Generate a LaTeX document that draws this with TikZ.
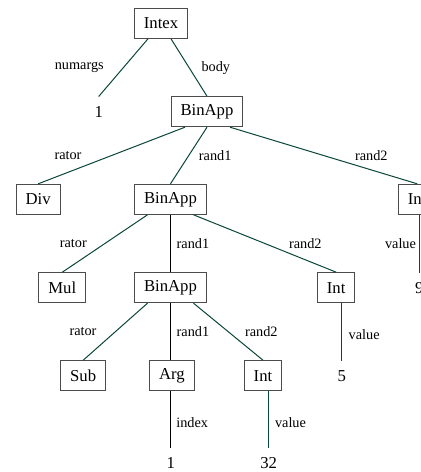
\documentclass[tikz,border=0pt]{standalone}
\usepackage{fontspec}
\setmainfont{Liberation Serif}
\usepackage{xcolor}
\usepackage{tikz}
\usetikzlibrary{calc, positioning}
\definecolor{edgegreen}{RGB}{10,70,58}

\begin{document}
\begin{tikzpicture}[x=1pt, y=-1pt,
    box/.style={draw=black!70, line width=1pt, inner xsep=9.5pt, inner ysep=0pt, minimum height=30pt, font=\fontsize{16.7}{20}\selectfont},
    leaf/.style={inner sep=0pt, minimum height=30pt, font=\fontsize{16.7}{20}\selectfont},
    lbl/.style={inner sep=0pt, font=\fontsize{14.3}{17}\selectfont},
    link/.style={draw=edgegreen, line width=1pt},
    plain/.style={draw=black, line width=1pt}]
    \useasboundingbox (0,0) rectangle (421,472);
    \clip (0,0) rectangle (421,472);
    % Tree nodes
    \node[box]  (intex) at (161,23.3)    {Intex};
    \node[leaf] (one)   at (98.7,111.7)  {1};
    \node[box]  (binA)  at (207,111.7)   {BinApp};
    \node[box]  (div)   at (38.2,199.3)  {Div};
    \node[box]  (binB)  at (170.5,199.3) {BinApp};
    \node[box]  (intR)  at (417.2,199.3) {Int};
    \node[box]  (mul)   at (62.3,287.7)  {Mul};
    \node[box]  (binC)  at (170.5,287.7) {BinApp};
    \node[box]  (intM)  at (336.2,287.7) {Int};
    \node[leaf] (nine)  at (419.3,287.7) {9};
    \node[box]  (sub)   at (83.2,375.7)  {Sub};
    \node[box]  (arg)   at (172,375.7)   {Arg};
    \node[box]  (intS)  at (263,375.7)   {Int};
    \node[leaf] (five)  at (341.7,375.7) {5};
    \node[leaf] (oneB)  at (170.7,463.3) {1};
    \node[leaf] (tt)    at (268.7,463.3) {32};
    % Connectors
    \draw[link] ([xshift=-13pt]intex.south) -- (one.north);
    \draw[link] ([xshift=10pt]intex.south) -- (binA.north);
    \draw[link] ([xshift=-22pt]binA.south) -- (div.north);
    \draw[link] (binA.south) -- (binB.north);
    \draw[link] ([xshift=23pt]binA.south) -- (intR.north);
    \draw[link] ([xshift=-23pt]binB.south) -- (mul.north);
    \draw[plain] (binB.south) -- (binC.north);
    \draw[link] ([xshift=23pt]binB.south) -- (intM.north);
    \draw[link] (intR.south -| nine.north) -- (nine.north);
    \draw[link] ([xshift=-23pt]binC.south) -- (sub.north);
    \draw[plain] (binC.south) -- (binC.south |- arg.north);
    \draw[link] ([xshift=23pt]binC.south) -- (intS.north);
    \draw[link] (intM.south -| five.north) -- (five.north);
    \draw[plain] (arg.south -| oneB.north) -- (oneB.north);
    \draw[link] (intS.south -| tt.north) -- (tt.north);
    % Edge labels
    \foreach \x/\y/\t [count=\i] in {79.3/67.7/numargs, 215.8/67.7/body,
        68/155.7/rator, 215.2/155.7/rand1, 371.3/155.7/rand2,
        73.3/243.3/rator, 193/243.3/rand1, 305.3/243.3/rand2, 400.5/243.3/value,
        83/331.7/rator, 193/331.7/rand1, 261.3/331.7/rand2, 364.2/334.3/value,
        192.2/422.3/index, 290.5/422.3/value} {
        \node[lbl] (lab\i) at (\x,\y) {\t};
    }
\end{tikzpicture}
\end{document}
